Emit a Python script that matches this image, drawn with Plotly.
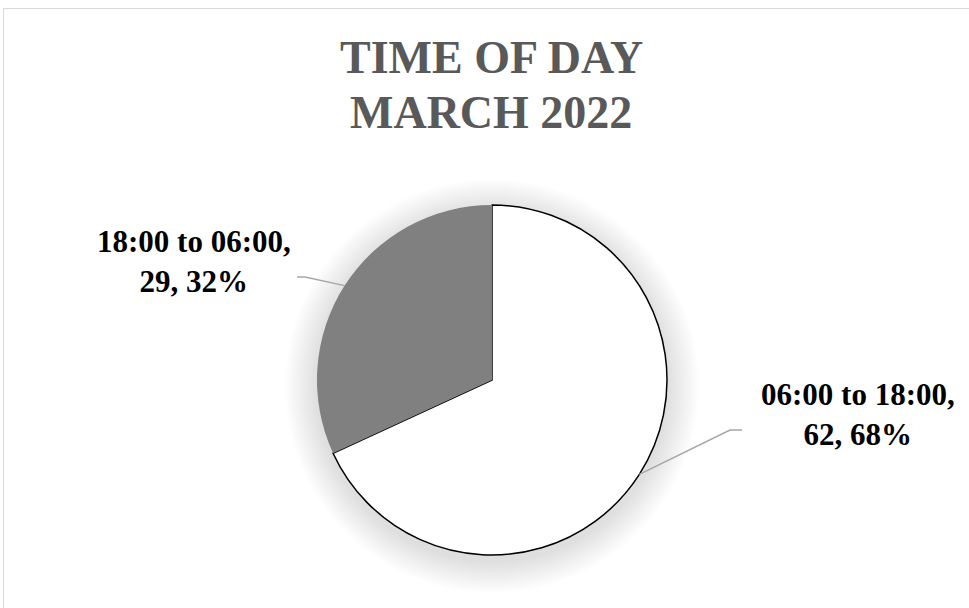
import math
import plotly.graph_objects as go

# ---- data ----
categories = ["06:00 to 18:00", "18:00 to 06:00"]
values = [62, 29]
slice_colors = ["#FFFFFF", "#808080"]
title_lines = ["TIME OF DAY", "MARCH 2022"]

# ---- layout constants (pixels) ----
W, H = 969, 608
CX, CY, R = 492, 380, 175
label_pos = [(858, 414), (194, 261)]      # label centers
elbow_pos = [(730, 430), (305, 277)]      # leader elbow
tail_pos = [(742, 430), (297, 277)]       # leader end near text
title_mid_y = [57, 112]                   # title line centres
SERIF = "Times New Roman, Liberation Serif, serif"

def px(x):
    return x / W

def py(y):
    return 1 - y / H

fig = go.Figure()

fig.add_trace(go.Pie(
    labels=categories,
    values=values,
    sort=False,
    direction="clockwise",
    rotation=0,
    marker=dict(colors=slice_colors,
                line=dict(color=["#000000", "#808080"], width=[1.5, 0])),
    textinfo="none",
    hoverinfo="label+value+percent",
    showlegend=False,
    domain=dict(x=[px(CX - R), px(CX + R)], y=[py(CY + R), py(CY - R)]),
))

shapes = []
# soft shadow behind the pie
for i in range(16):
    rr = R + 2 + i * 2
    shapes.append(dict(type="circle", xref="paper", yref="paper", layer="below",
                       x0=px(CX - rr), x1=px(CX + rr),
                       y0=py(CY + 6 + rr), y1=py(CY + 6 - rr),
                       line=dict(width=0), fillcolor="rgba(0,0,0,0.007)"))
# chart area border
shapes.append(dict(type="rect", xref="paper", yref="paper", layer="below",
                   x0=px(3.5), x1=1.02, y0=-0.02, y1=py(8.5),
                   line=dict(color="#D9D9D9", width=1), fillcolor="rgba(0,0,0,0)"))

total = sum(values)
annotations = []
start = 0.0
for i, v in enumerate(values):
    frac = v / total
    mid = (start + frac / 2) * 2 * math.pi
    start += frac
    ex = CX + R * math.sin(mid)
    ey = CY - R * math.cos(mid)
    pct = round(100 * frac)
    (bx, by), (tx, ty) = elbow_pos[i], tail_pos[i]
    shapes.append(dict(type="path", xref="paper", yref="paper",
                       path=f"M {px(ex)},{py(ey)} L {px(bx)},{py(by)} L {px(tx)},{py(ty)}",
                       line=dict(color="#A6A6A6", width=1.5)))
    lx, ly = label_pos[i]
    annotations.append(dict(
        xref="paper", yref="paper", x=px(lx), y=py(ly),
        xanchor="center", yanchor="middle", showarrow=False, align="center",
        text=f"<b>{categories[i]},<br>{v}, {pct}%</b>",
        font=dict(family=SERIF, size=31, color="#000000"),
    ))

for line, my in zip(title_lines, title_mid_y):
    annotations.append(dict(
        xref="paper", yref="paper", x=px(491), y=py(my),
        xanchor="center", yanchor="middle", showarrow=False, align="center",
        text=f"<b>{line}</b>",
        font=dict(family=SERIF, size=46, color="#595959"),
    ))

fig.update_layout(
    width=W, height=H,
    margin=dict(l=0, r=0, t=0, b=0),
    paper_bgcolor="#FFFFFF",
    plot_bgcolor="#FFFFFF",
    shapes=shapes,
    annotations=annotations,
)

fig.write_html("out.html", config={"displayModeBar": False},
               post_script="document.body.style.margin='0';")
